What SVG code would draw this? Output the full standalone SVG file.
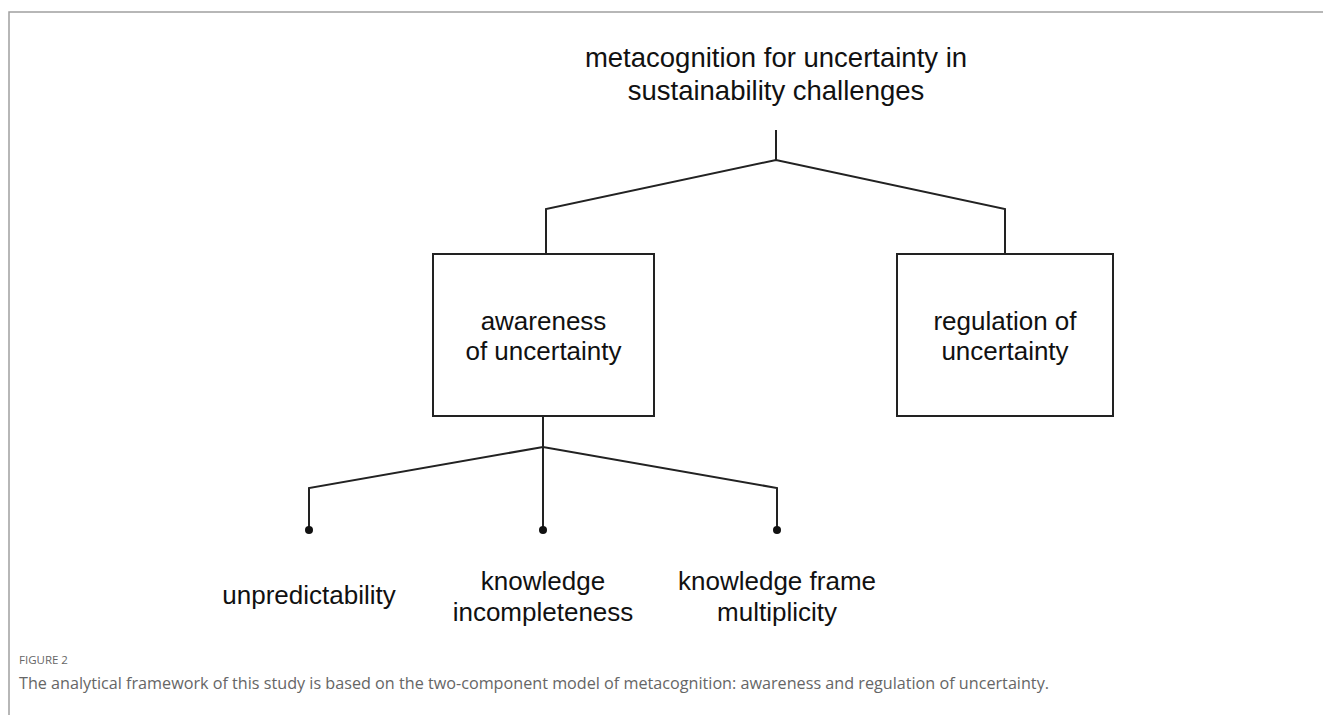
<svg xmlns="http://www.w3.org/2000/svg" width="1323" height="715" viewBox="0 0 1323 715">
<style>
.t{font-family:"Liberation Sans",Arial,sans-serif;font-size:26px;fill:#111;text-anchor:middle}
.h{font-size:27.5px}
.box{fill:#fff;stroke:#222;stroke-width:2}
.ln{fill:none;stroke:#222;stroke-width:2}
.cap{font-family:"Open Sans",sans-serif;fill:#666}
</style>
<rect width="1323" height="715" fill="#fff"/>
<path d="M9 715 V12 H1323" fill="none" stroke="#a0a0a0" stroke-width="1.5"/>
<g id="connectors">
<path class="ln" d="M776 130 V160 M546 254 V209 L776 160 L1005 209 V254"/>
<path class="ln" d="M543 416 V530 M309 530 V488 L543 447 L777 488 V530"/>
<circle cx="309" cy="530" r="4" fill="#111"/>
<circle cx="543" cy="530" r="4" fill="#111"/>
<circle cx="777" cy="530" r="4" fill="#111"/>
</g>
<g id="root">
<text class="t h" x="776" y="67">metacognition for uncertainty in</text>
<text class="t h" x="776" y="100">sustainability challenges</text>
</g>
<g id="awareness">
<rect class="box" x="433" y="254" width="221" height="162"/>
<text class="t" x="543.5" y="330">awareness</text>
<text class="t" x="543.5" y="360">of uncertainty</text>
</g>
<g id="regulation">
<rect class="box" x="897" y="254" width="216" height="162"/>
<text class="t" x="1005" y="330">regulation of</text>
<text class="t" x="1005" y="360">uncertainty</text>
</g>
<g id="unpredictability">
<text class="t" x="309" y="604">unpredictability</text>
</g>
<g id="incompleteness">
<text class="t" x="543" y="590">knowledge</text>
<text class="t" x="543" y="621">incompleteness</text>
</g>
<g id="multiplicity">
<text class="t" x="777" y="590">knowledge frame</text>
<text class="t" x="777" y="621">multiplicity</text>
</g>
<text class="cap" x="19" y="664" font-size="11.5" fill="#777">FIGURE 2</text>
<text class="cap" x="19" y="689" font-size="15.5" textLength="1030" lengthAdjust="spacingAndGlyphs">The analytical framework of this study is based on the two-component model of metacognition: awareness and regulation of uncertainty.</text>
</svg>
